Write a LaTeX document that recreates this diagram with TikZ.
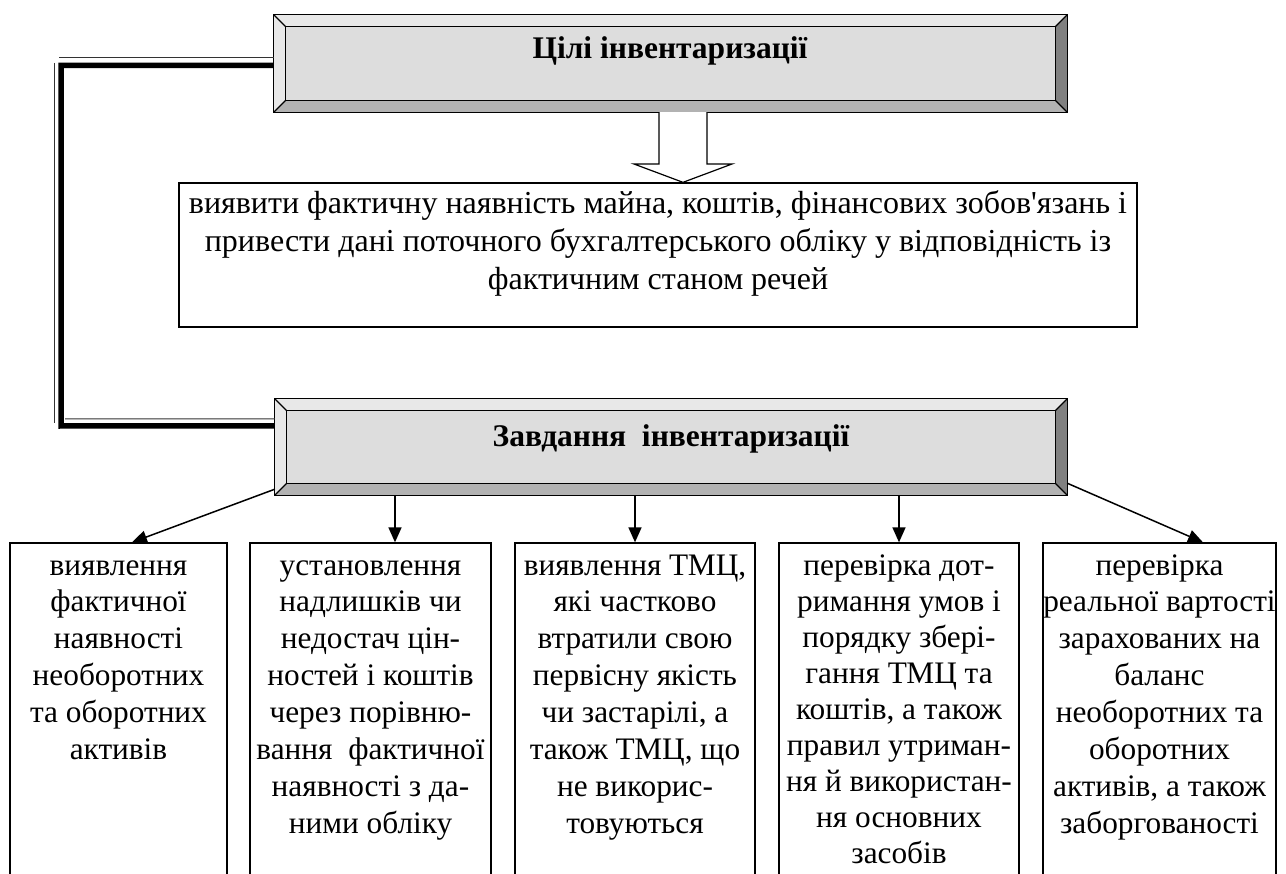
\documentclass[tikz,border=0pt]{standalone}
\usepackage{fontspec}
\setmainfont{Liberation Serif}
\usetikzlibrary{calc,arrows.meta}
\definecolor{bevlight}{gray}{0.91}
\definecolor{bevin}{gray}{0.865}
\definecolor{bevbot}{gray}{0.70}
\definecolor{bevright}{gray}{0.50}
\newcommand\drawbevel[1]{%
  \coordinate (#1-a) at ($(#1.north west)+(12,12)$);
  \coordinate (#1-b) at ($(#1.north east)+(-12,12)$);
  \coordinate (#1-c) at ($(#1.south east)+(-12,-12)$);
  \coordinate (#1-d) at ($(#1.south west)+(12,-12)$);
  \fill[bevlight] (#1.north west) -- (#1.north east) -- (#1-b) -- (#1-a) -- cycle;
  \fill[bevlight] (#1.north west) -- (#1-a) -- (#1-d) -- (#1.south west) -- cycle;
  \fill[bevbot] (#1.south west) -- (#1-d) -- (#1-c) -- (#1.south east) -- cycle;
  \fill[bevright] (#1.north east) -- (#1.south east) -- (#1-c) -- (#1-b) -- cycle;
  \fill[bevin] (#1-a) rectangle (#1-c);
  \draw[line width=1.3pt] (#1.north west) rectangle (#1.south east);
  \draw[line width=1.3pt] (#1-a) rectangle (#1-c);
  \draw[line width=1.3pt] (#1.north west) -- (#1-a) (#1.north east) -- (#1-b)
     (#1.south east) -- (#1-c) (#1.south west) -- (#1-d);
}
\begin{document}
\begin{tikzpicture}[x=1pt,y=-1pt,
  box/.style={draw=black, line width=1.3pt, inner sep=0pt},
  bev/.style={inner sep=0pt},
  thickl/.style={line width=5.5pt, line join=miter},
  thinl/.style={line width=1pt, black!80},
  arr/.style={line width=1.5pt, -{Triangle[length=15pt,width=13pt]}},
  btxt/.style={font=\fontsize{31.3}{36.9}\selectfont, align=center, anchor=base, inner sep=0pt},
  mtxt/.style={font=\fontsize{32}{38}\selectfont, align=center, anchor=base, inner sep=0pt},
  ttxt/.style={font=\bfseries\fontsize{31.5}{36}\selectfont, anchor=base, inner sep=0pt},
]
\useasboundingbox (0,0) rectangle (1286,874);
\clip (0,0) rectangle (1286,874);

% top bevel box
\node[bev, minimum width=793pt, minimum height=97pt] (goal) at (670.5,63.5) {};
\drawbevel{goal}
\node[ttxt] (goalt) at (670,59) {Цілі інвентаризації};

% middle box (text anchored at the baseline of its last line)
\node[box, minimum width=958pt, minimum height=144pt] (mid) at (658,255) {};
\node[mtxt] (midt) at (658,290) {виявити фактичну наявність майна, коштів, фінансових зобов\textquotesingle язань і\\привести дані поточного бухгалтерського обліку у відповідність із\\фактичним станом речей};

% hollow arrow
\coordinate (hx1) at (659,0);
\coordinate (hx2) at (707,0);
\coordinate (hxt) at (683,0);
\draw[line width=1.2pt, fill=white, line join=miter] (hx1 |- goal.south) -- (659,164) -- (634,164) -- (hxt |- mid.north) -- (732,164) -- (707,164) -- (hx2 |- goal.south);

% second bevel box
\node[bev, minimum width=792pt, minimum height=96pt] (task) at (671,447) {};
\drawbevel{task}
\node[ttxt] (taskt) at (671,447) {Завдання\ \ інвентаризації};

% double line connector
\draw[thickl] ($(goal.west)+(0,2)$) -| (61,426) -- ($(task.north west)+(0,27)$);
\draw[thinl] (59,58) -- ($(goal.west)+(0,-5.5)$);
\draw[thinl] (54,63) -- (54,423);
\draw[thinl] (65,419) -- ($(task.north west)+(0,20)$);

% bottom boxes
\node[box, minimum width=217pt, minimum height=357pt] (b1) at (118.5,721.5) {};
\node[box, minimum width=241pt, minimum height=357pt] (b2) at (370.5,721.5) {};
\node[box, minimum width=240pt, minimum height=357pt] (b3) at (635,721.5) {};
\node[box, minimum width=240pt, minimum height=357pt] (b4) at (899,721.5) {};
\node[box, minimum width=233pt, minimum height=357pt] (b5) at (1159.5,721.5) {};

% texts anchored at the baseline of their last line (first line at 575)
\node[btxt] (t1) at (118.5,759.5) {виявлення\\фактичної\\наявності\\необоротних\\та оборотних\\активів};
\node[btxt] (t2) at (370.5,833.3) {установлення\\надлишків чи\\недостач цін-\\ностей і коштів\\через порівню-\\вання\ \ фактичної\\наявності з да-\\ними обліку};
\node[btxt] (t3) at (635,833.3) {виявлення ТМЦ,\\які частково\\втратили свою\\первісну якість\\чи застарілі, а\\також ТМЦ, що\\не викорис-\\товуються};
\node[btxt, font=\fontsize{31.3}{36}\selectfont] (t4) at (899,863) {перевірка дот-\\римання умов і\\порядку збері-\\гання ТМЦ та\\коштів, а також\\правил утриман-\\ня й використан-\\ня основних\\засобів};
\node[btxt] (t5) at (1159.5,833.3) {перевірка\\реальної вартості\\зарахованих на\\баланс\\необоротних та\\оборотних\\активів, а також\\заборгованості};

% arrows
\draw[arr] ($(task.south west)+(0,-6)$) -- ($(b1.north)+(13.5,0)$);
\coordinate (ax2) at (395,0);
\draw[arr] (ax2 |- task.south) -- (ax2 |- b2.north);
\draw[arr] (b3.north |- task.south) -- (b3.north);
\draw[arr] (b4.north |- task.south) -- (b4.north);
\draw[arr] ($(task.south east)+(0,-12)$) -- ($(b5.north)+(43.5,0)$);
\end{tikzpicture}
\end{document}
